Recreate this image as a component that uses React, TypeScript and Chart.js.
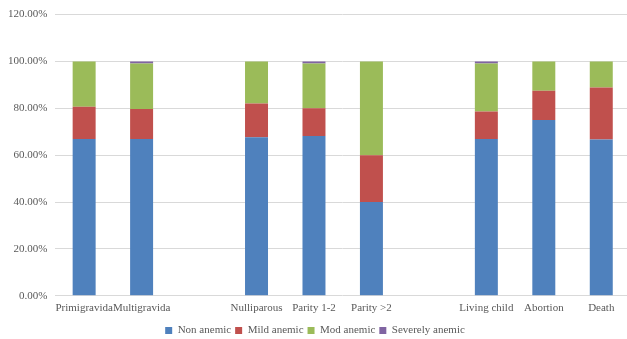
import React, { useEffect, useRef } from "react";
import { Chart, registerables } from "chart.js";

Chart.register(...registerables);

const labels = ["Primigravida", "Multigravida", "", "Nulliparous", "Parity 1-2", "Parity >2", "", "Living child", "Abortion", "Death"];
const nonAnemic = [66.9, 66.9, null, 67.7, 68.2, 40.0, null, 66.9, 75.0, 66.67];
const mildAnemic = [13.8, 12.8, null, 14.4, 11.8, 20.0, null, 11.8, 12.5, 22.22];
const modAnemic = [19.3, 19.4, null, 17.9, 19.1, 40.0, null, 20.4, 12.5, 11.11];
const severelyAnemic = [0, 0.9, null, 0, 0.9, 0, null, 0.9, 0, 0];
const yTicks = [0, 20, 40, 60, 80, 100, 120];

export default function App() {
  const ref = useRef<HTMLCanvasElement | null>(null);
  useEffect(() => {
    document.body.style.margin = "0";
    document.body.style.overflow = "hidden";
    const font = { family: "'Liberation Serif', 'Times New Roman', serif", size: 11 };
    const mk = (label: string, data: (number | null)[], color: string) => ({
      label,
      data,
      backgroundColor: color,
      borderWidth: 0,
      barPercentage: 0.4,
      categoryPercentage: 1,
    });
    const chart = new Chart(ref.current!, {
      type: "bar",
      data: {
        labels,
        datasets: [
          mk("Non anemic", nonAnemic, "#4F81BD"),
          mk("Mild anemic", mildAnemic, "#C0504D"),
          mk("Mod anemic", modAnemic, "#9BBB59"),
          mk("Severely anemic", severelyAnemic, "#8064A2"),
        ],
      },
      options: {
        responsive: false,
        animation: false,
        layout: { padding: { top: 6, right: 10, left: 0, bottom: 0 } },
        plugins: {
          legend: {
            position: "bottom",
            labels: {
              boxWidth: 7,
              boxHeight: 7,
              font,
              color: "#595959",
              padding: 4,
            },
          },
          tooltip: { enabled: false },
        },
        scales: {
          x: {
            stacked: true,
            grid: { display: false, drawTicks: false },
            border: { display: false },
            ticks: { font, color: "#595959", autoSkip: false, maxRotation: 0, padding: 6 },
          },
          y: {
            stacked: true,
            min: 0,
            max: 120,
            afterBuildTicks: (axis: any) => {
              axis.ticks = yTicks.map((v) => ({ value: v }));
            },
            grid: { color: "#d9d9d9", lineWidth: 1, drawTicks: false },
            border: { display: false },
            ticks: {
              font,
              color: "#595959",
              padding: 8,
              callback: (v: any) => Number(v).toFixed(2) + "%",
            },
          },
        },
      },
    });
    return () => chart.destroy();
  }, []);
  return (
    <div style={{ width: 627, height: 339, overflow: "hidden" }}>
      <canvas ref={ref} width={640} height={346} style={{ display: "block" }} />
    </div>
  );
}
